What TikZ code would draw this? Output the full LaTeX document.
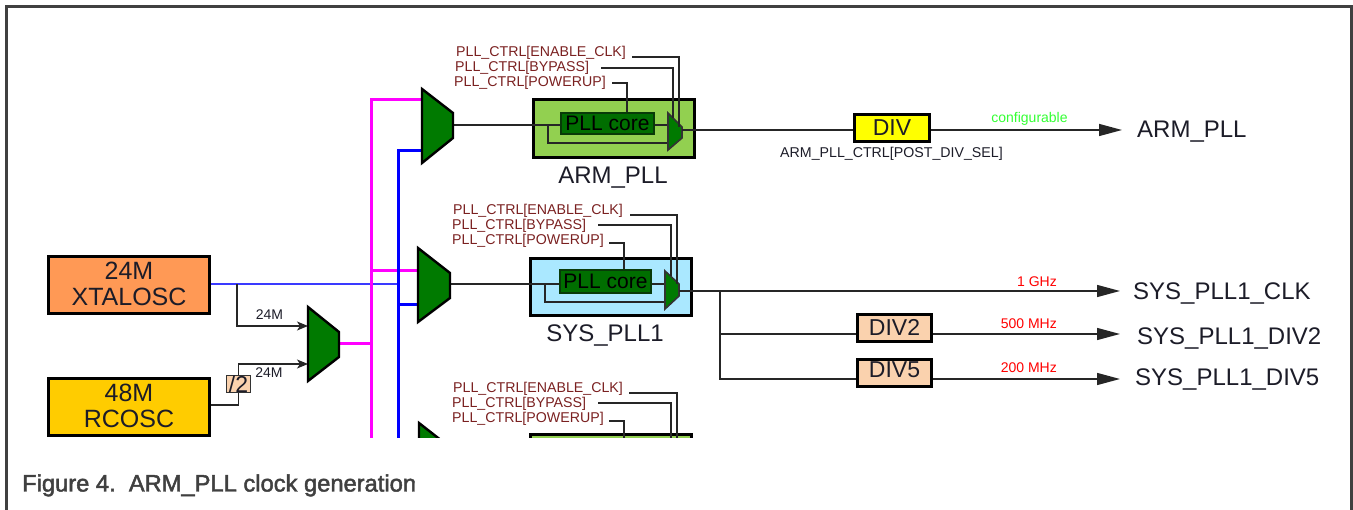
\documentclass[tikz,border=0pt]{standalone}
\usepackage{fontspec}
\setmainfont{Liberation Sans}
\newfontfamily\capfont[FakeBold=2.0]{Liberation Sans}
\usetikzlibrary{arrows.meta,calc}
\definecolor{mgreen}{HTML}{007A00}
\definecolor{cgreen}{HTML}{006E00}
\definecolor{coreedge}{HTML}{083A08}
\definecolor{armfill}{HTML}{92D050}
\definecolor{sysfill}{HTML}{AAE8FF}
\definecolor{xtal}{HTML}{FF9955}
\definecolor{rco}{HTML}{FFCC00}
\definecolor{divfill}{HTML}{FAD2AE}
\definecolor{ctrltxt}{HTML}{7A2020}
\definecolor{dtxt}{HTML}{1C1C28}
\definecolor{frame}{HTML}{404040}
\definecolor{thinblue}{HTML}{3A3AFF}
\definecolor{cfg}{HTML}{33FF33}
\definecolor{pmag}{HTML}{FF00FF}
\definecolor{pblue}{HTML}{0000FF}
\definecolor{pyel}{HTML}{FFFF00}
\definecolor{pred}{HTML}{FF0000}
\tikzset{
  x=1pt,y=-1pt,
  wire/.style={draw=black!85,line width=1.4pt},
  magw/.style={draw=pmag,line width=3pt},
  bluew/.style={draw=pblue,line width=3pt},
  mux/.style={draw=black,fill=mgreen,line width=2.4pt,line join=miter},
  smux/.style={draw=black!80,fill=mgreen,line width=1.6pt},
  block/.style={draw=black,line width=3pt,inner sep=0pt,text=dtxt,font=\fontsize{23}{23}\selectfont,align=center},
  srcblock/.style={block,font=\fontsize{25}{25}\selectfont},
  core/.style={draw=coreedge,fill=cgreen,line width=1.6pt,inner sep=0pt,text=black,font=\fontsize{21}{21}\selectfont},
  txt/.style={inner sep=0pt,text height=17pt,text depth=0pt,text=dtxt,font=\fontsize{24}{24}\selectfont},
  ctrl/.style={inner sep=0pt,anchor=west,text height=10pt,text depth=0pt,text=ctrltxt,font=\fontsize{14.2}{14.2}\selectfont},
  note/.style={inner sep=0pt,text height=10pt,text depth=0pt,font=\fontsize{14}{14}\selectfont},
  bigarrow/.style={wire,-{Triangle[length=23pt,width=12pt]}},
  smallarrow/.style={wire,-{Stealth[length=11pt,width=9pt,inset=3pt]}}
}
\newcommand{\rectnode}[7]{% name x1 y1 x2 y2 style text
  \node[#6,minimum width={#4-#2-3},minimum height={#5-#3-3}] (#1) at ({(#2+#4)/2},{(#3+#5)/2}) {#7};}
\newcommand{\rectcore}[7]{%
  \node[#6,minimum width={#4-#2-1.6},minimum height={#5-#3-1.6}] (#1) at ({(#2+#4)/2},{(#3+#5)/2}) {#7};}
\begin{document}
\begin{tikzpicture}
\useasboundingbox (0,0) rectangle (1353,510);
% frame
\draw[frame,line width=2.6pt] (6.3,510) -- (6.3,6.5) -- (1351.7,6.5) -- (1351.7,510);

% source blocks
\rectnode{xo}{47}{255}{211}{315}{srcblock,fill=xtal}{\raisebox{2pt}{24M}\\[1pt]\raisebox{2pt}{XTALOSC}}
\rectnode{rc}{47}{377}{211}{437}{srcblock,fill=rco}{\raisebox{2pt}{48M}\\[1pt]\raisebox{2pt}{RCOSC}}
\node[draw=black!80,fill=divfill,line width=1.5pt,inner sep=0pt,minimum width=24pt,minimum height=17pt,text=dtxt,font=\fontsize{23}{23}\selectfont] (half) at (238.5,384) {/2};

% ports
\coordinate (j0) at (237,284);
\coordinate (blueT) at (398,284);
\coordinate (m0a) at (308,326);
\coordinate (m0b) at (308,364);
\coordinate (m0o) at (339,344);
\coordinate (mgbus) at (371,344);
\coordinate (mgtop) at (371,99.5);
\coordinate (mgbot) at (371,438);
\coordinate (blbus) at (398,150.5);
\coordinate (blbot) at (398,438);
\coordinate (m1a) at (422,99.5);
\coordinate (m1b) at (422,150.5);
\coordinate (m2a) at (418,271);
\coordinate (m2b) at (418,304.5);
\coordinate (mg2) at (371,271);
\coordinate (bl2) at (398,304.5);

% source wires
\draw[draw=thinblue,line width=1.4pt] (xo.east |- j0) -- (blueT);
\draw[smallarrow] (j0) -- (237,326) -- (m0a);
\draw[wire] (rc.east |- 0,405) -- (238.5,405) -- (half.south);
\draw[smallarrow] (half.north) -- (238.5,364) -- (m0b);

% buses
\draw[magw] (m0o) -- (mgbus);
\draw[magw] (mgbot) -- (mgtop) -- (m1a);
\draw[magw] (mg2) -- (m2a);
\draw[bluew] (blbot) -- (blbus) -- (m1b);
\draw[bluew] (bl2) -- (m2b);

% input mux
\draw[mux] (308,307) -- (339,332) -- (339,357) -- (308,381) -- cycle;

% ---------- ARM_PLL row
\rectnode{armb}{532}{98}{696}{159}{block,fill=armfill}{}
\rectcore{armc}{560}{112}{655}{135}{core}{PLL core}
\coordinate (am) at (453,125);
\coordinate (ab) at (548,125);
\coordinate (ab2) at (548,143);
\coordinate (asi) at (668,143);
\coordinate (aco) at (668,125);
\coordinate (aso) at (682,130);
\draw[wire] (am) -- (armc.west |- am);
\draw[wire] (ab) -- (ab2) -- (asi);
\draw[wire] (armc.east |- aco) -- (aco);
\draw[smux] (668,113) -- (682,127) -- (682,138) -- (668,150) -- cycle;
\draw[mux] (422,89) -- (453,113) -- (453,138) -- (422,163) -- cycle;
\node[ctrl] (ae) at (456,52) {PLL\_CTRL[ENABLE\_CLK]};
\node[ctrl] (ab1) at (455,66.5) {PLL\_CTRL[BYPASS]};
\node[ctrl] (ap) at (454,81.5) {PLL\_CTRL[POWERUP]};
\coordinate (aes) at (632,57);
\coordinate (abs) at (601,68);
\coordinate (aps) at (612,83);
\draw[wire] (aes) -- (679,57) -- (679,127);
\draw[wire] (abs) -- (673,68) -- (673,118);
\draw[wire] (aps) -- (627,83) -- (627,112);
\node[txt] (armt) at (613,175) {ARM\_PLL};
\rectnode{dv}{853}{113}{931}{143}{block,fill=pyel}{\raisebox{1pt}{DIV}}
\node[txt,anchor=west] (armo) at (1137,129) {ARM\_PLL};
\draw[wire] (aso) -- (dv.west |- aso);
\coordinate (armtip) at (1122,130);
\draw[bigarrow] (dv.east |- aso) -- (armtip);
\node[note,text=cfg] (cf) at (1029.5,118) {configurable};
\node[ctrl,text=dtxt] (ps) at (780,152.5) {ARM\_PLL\_CTRL[POST\_DIV\_SEL]};

% ---------- SYS_PLL1 row
\rectnode{sysb}{529}{257}{693}{317}{block,fill=sysfill}{}
\rectcore{sysc}{559}{269}{652}{294}{core}{PLL core}
\coordinate (sm) at (450,284);
\coordinate (sb) at (545,284);
\coordinate (sb2) at (545,302);
\coordinate (ssi) at (665,302);
\coordinate (sco) at (665,284);
\coordinate (sso) at (679,291);
\draw[wire] (sm) -- (sysc.west |- sm);
\draw[wire] (sb) -- (sb2) -- (ssi);
\draw[wire] (sysc.east |- sco) -- (sco);
\draw[smux] (665,271) -- (679,284) -- (679,296) -- (665,309) -- cycle;
\draw[mux] (418,248) -- (450,273) -- (450,298) -- (418,322) -- cycle;
\node[ctrl] (se) at (453,210) {PLL\_CTRL[ENABLE\_CLK]};
\node[ctrl] (sb1) at (452,225) {PLL\_CTRL[BYPASS]};
\node[ctrl] (sp) at (452,240) {PLL\_CTRL[POWERUP]};
\coordinate (ses) at (630,215);
\coordinate (sbs) at (598,225);
\coordinate (sps) at (609,243);
\draw[wire] (ses) -- (677,215) -- (677,284);
\draw[wire] (sbs) -- (671,225) -- (671,276);
\draw[wire] (sps) -- (624,243) -- (624,269);
\node[txt] (syst) at (605,333) {SYS\_PLL1};

\rectnode{d2}{856}{313}{933}{343}{block,fill=divfill}{\raisebox{2pt}{DIV2}}
\rectnode{d5}{856}{358}{933}{388}{block,fill=divfill}{\raisebox{7pt}{DIV5}}
\coordinate (sj) at (720,291);
\coordinate (sj2) at (720,334);
\coordinate (sj5) at (720,379);
\coordinate (t1) at (1120,291);
\coordinate (t2) at (1120,334);
\coordinate (t5) at (1120,379);
\draw[bigarrow] (sso) -- (t1);
\draw[wire] (sj) -- (sj5) -- (d5.west |- sj5);
\draw[wire] (sj2) -- (d2.west |- sj2);
\draw[bigarrow] (d2.east |- sj2) -- (t2);
\draw[bigarrow] (d5.east |- sj5) -- (t5);
\node[txt,anchor=west] (o1) at (1133,291) {SYS\_PLL1\_CLK};
\node[txt,anchor=west] (o2) at (1137,336) {SYS\_PLL1\_DIV2};
\node[txt,anchor=west] (o5) at (1135,377) {SYS\_PLL1\_DIV5};
\node[note,text=pred,anchor=east] (f1) at (1057,281.5) {1 GHz};
\node[note,text=pred,anchor=east] (f2) at (1057,324) {500 MHz};
\node[note,text=pred,anchor=east] (f5) at (1057,368) {200 MHz};

\node[note,text=dtxt] (l1) at (269.5,315) {24M};
\node[note,text=dtxt] (l2) at (269,373) {24M};

% ---------- third row, cut off by the crop
\begin{scope}
\clip (0,0) rectangle (1353,438);
\rectnode{tb}{529}{433.5}{693}{495}{block,fill=armfill}{}
\draw[mux] (419,423) -- (451,448) -- (451,473) -- (419,497) -- cycle;
\coordinate (tes) at (629,393);
\coordinate (tbs) at (598,403);
\coordinate (tps) at (609,421);
\draw[wire] (tes) -- (677,393) -- (677,440);
\draw[wire] (tbs) -- (671,403) -- (671,440);
\draw[wire] (tps) -- (624,421) -- (624,440);
\end{scope}
\node[ctrl] (te) at (453,388) {PLL\_CTRL[ENABLE\_CLK]};
\node[ctrl] (tb1) at (452,403) {PLL\_CTRL[BYPASS]};
\node[ctrl] (tp) at (452,418) {PLL\_CTRL[POWERUP]};

% caption
\node[inner sep=0pt,anchor=west,text height=17pt,text depth=0pt,text=frame,font=\capfont\fontsize{23.7}{24}\selectfont] (cap) at (22,483) {Figure 4.\ \ ARM\_PLL clock generation};
\end{tikzpicture}
\end{document}
